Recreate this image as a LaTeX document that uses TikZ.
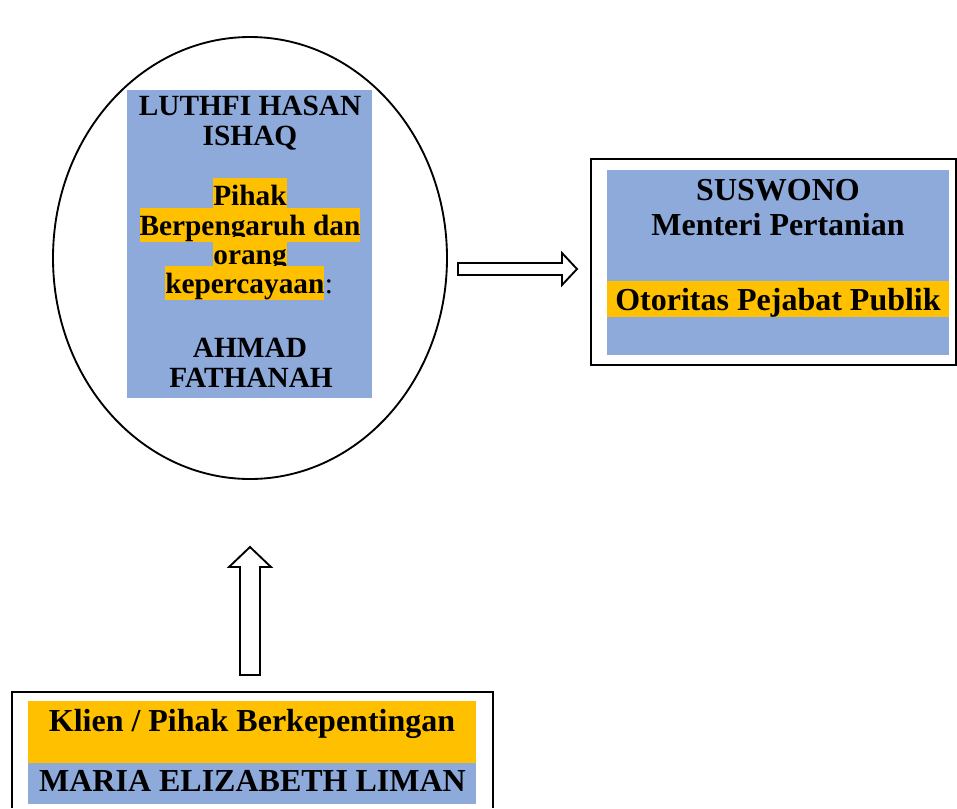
\documentclass[tikz,border=0pt]{standalone}
\usepackage{fontspec}
\setmainfont{Liberation Serif}
\usetikzlibrary{shapes.geometric}
\definecolor{blu}{HTML}{8EAADB}
\definecolor{org}{HTML}{FFC000}
\begin{document}
\begin{tikzpicture}[x=0.75pt,y=-0.75pt,
  txtA/.style={font=\fontsize{22}{24}\selectfont\bfseries, inner sep=0pt, anchor=base},
  txtB/.style={font=\fontsize{24}{26}\selectfont\bfseries, inner sep=0pt, anchor=base},
  hl/.style={fill=org, text height=20pt, text depth=5.5pt},
  frame/.style={draw=black, line width=1.4pt},
  blockarrow/.style={draw=black, line width=1.4pt, fill=white, line join=miter}]
\useasboundingbox (0,0) rectangle (957,808);

% left ellipse group
\node[ellipse, frame, minimum width=295.5pt, minimum height=331.5pt, inner sep=0pt] (ell) at (250,258) {};
\fill[blu] (127,90) rectangle (372,398);
\node[txtA] (luthfi) at (250,115) {LUTHFI HASAN};
\node[txtA] (ishaq) at (250,145) {ISHAQ};
\node[txtA,hl] (pihak) at (250,205) {Pihak};
\node[txtA,hl] (berp) at (250,235) {Berpengaruh dan};
\node[txtA,hl] (orang) at (250,264) {orang};
\node[txtA,hl,anchor=base west] (kep) at (165,293) {kepercayaan};
\node[txtA,anchor=base west,font=\fontsize{22}{24}\selectfont] (colon) at (kep.base east) {:};
\node[txtA] (ahmad) at (250,357) {AHMAD};
\node[txtA] (fath) at (251,387) {FATHANAH};

% right box
\draw[frame] (591,159) rectangle (956,365);
\fill[blu] (607,170) rectangle (949,355);
\fill[org] (607,281) rectangle (949,317);
\node[txtB] (suswono) at (778,200) {SUSWONO};
\node[txtB] (menteri) at (778,235) {Menteri Pertanian};
\node[txtB] (otoritas) at (778,310) {Otoritas Pejabat Publik};

% bottom box
\draw[frame] (12,808) -- (12,692) -- (493,692) -- (493,808);
\fill[org] (28,701) rectangle (476,763);
\fill[blu] (28,763) rectangle (476,804);
\node[txtB] (klien) at (252,731) {Klien / Pihak Berkepentingan};
\node[txtB] (maria) at (252.5,791) {MARIA ELIZABETH LIMAN};

% block arrows
\draw[blockarrow] (458,263) -- (562,263) -- (562,253) -- (577,269) -- (562,285) -- (562,275) -- (458,275) -- cycle;
\draw[blockarrow] (240,675) -- (240,567) -- (229,567) -- (250,547) -- (271,567) -- (260,567) -- (260,675) -- cycle;
\end{tikzpicture}
\end{document}
